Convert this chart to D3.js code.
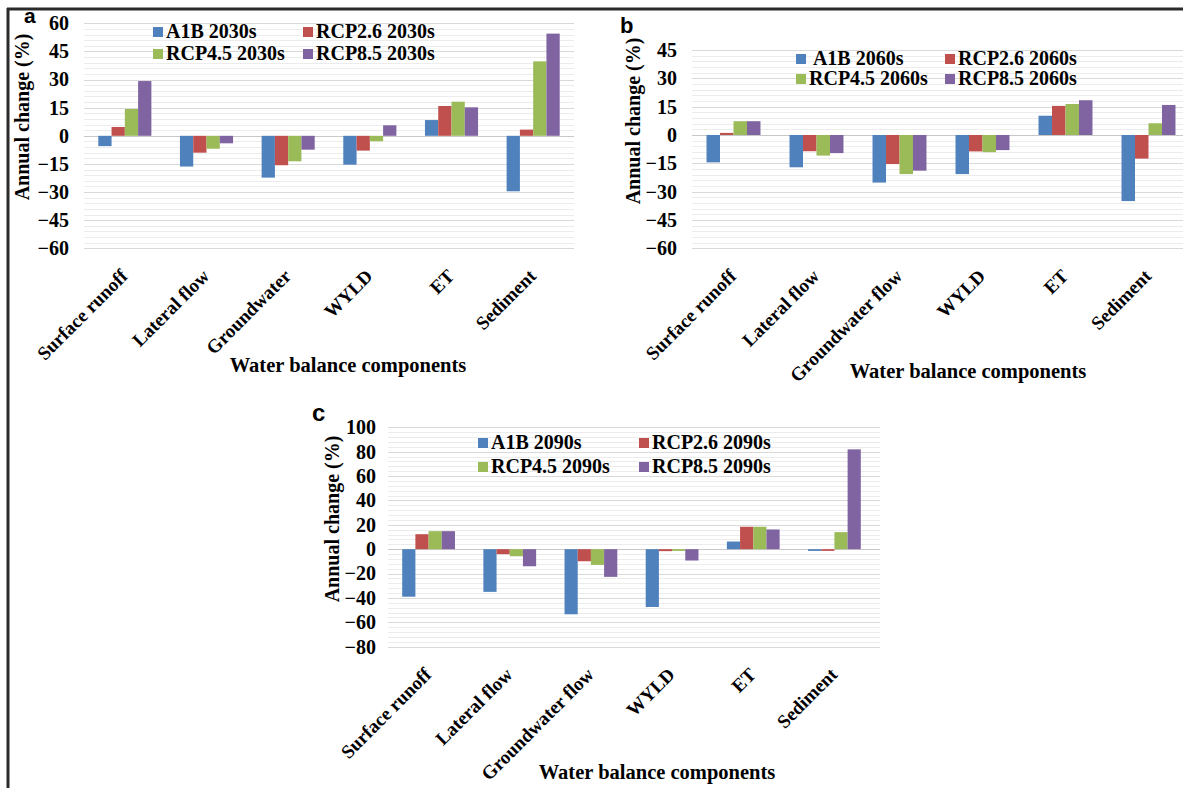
<!DOCTYPE html>
<html>
<head>
<meta charset="utf-8">
<script src="https://cdn.jsdelivr.net/npm/d3@7"></script>
<style>
  html, body { margin: 0; padding: 0; background: #fff; }
  svg { display: block; }
  .serif { font-family: 'Liberation Serif', 'Times New Roman', serif; font-weight: bold; fill: #000; }
</style>
</head>
<body>
<div id="figure"></div>
<script>
// categories / series
const CATEGORIES_A = ['Surface runoff', 'Lateral flow', 'Groundwater', 'WYLD', 'ET', 'Sediment']
const CATEGORIES_BC = ['Surface runoff', 'Lateral flow', 'Groundwater flow', 'WYLD', 'ET', 'Sediment']
const SERIES_2030 = ['A1B 2030s', 'RCP2.6 2030s', 'RCP4.5 2030s', 'RCP8.5 2030s']
const SERIES_2060 = [' A1B 2060s', 'RCP2.6 2060s', 'RCP4.5 2060s', 'RCP8.5 2060s']
const SERIES_2090 = ['A1B 2090s', 'RCP2.6 2090s', 'RCP4.5 2090s', 'RCP8.5 2090s']

// annual change (%), one array per scenario
const A1B_2030 = [-5.5, -16.4, -22.3, -15.4, 8.4, -29.6]
const RCP26_2030 = [4.7, -9.0, -15.7, -7.9, 15.9, 3.3]
const RCP45_2030 = [14.3, -6.9, -13.6, -2.9, 18.2, 39.7]
const RCP85_2030 = [29.2, -4.0, -7.4, 5.6, 15.2, 54.5]

const A1B_2060 = [-14.5, -17.1, -25.2, -20.7, 10.2, -35.0]
const RCP26_2060 = [1.1, -8.6, -15.4, -8.7, 15.4, -12.5]
const RCP45_2060 = [7.3, -10.9, -20.7, -9.1, 16.4, 6.2]
const RCP85_2060 = [7.3, -9.6, -18.9, -8.0, 18.4, 15.9]

const A1B_2090 = [-39.0, -35.0, -53.4, -47.4, 6.3, -1.4]
const RCP26_2090 = [12.3, -4.1, -9.9, -1.6, 18.4, -1.4]
const RCP45_2090 = [14.8, -5.8, -12.9, -1.4, 18.4, 14.0]
const RCP85_2090 = [14.8, -14.0, -22.7, -9.3, 16.2, 81.9]

const TICKS_A = [-60, -45, -30, -15, 0, 15, 30, 45, 60]
const TICKS_B = [-60, -45, -30, -15, 0, 15, 30, 45]
const TICKS_C = [-80, -60, -40, -20, 0, 20, 40, 60, 80, 100]

const COLORS = ['#4F81BD', '#C0504D', '#9BBB59', '#8064A2']
const WIDTH = 1183, HEIGHT = 788

const svg = d3.select('#figure')
  .append('svg')
  .attr('width', WIDTH)
  .attr('height', HEIGHT)

// outer frame (only top and left edges are visible in the picture)
svg.append('line').attr('x1', 7).attr('x2', WIDTH).attr('y1', 9).attr('y2', 9)
  .attr('stroke', '#2b2b2b').attr('stroke-width', 3)
svg.append('line').attr('x1', 8).attr('x2', 8).attr('y1', 8).attr('y2', HEIGHT)
  .attr('stroke', '#2b2b2b').attr('stroke-width', 3)

const drawPanel = ({ letter, categories, series, values, ticks, plot, legend, yTitle, xTitle }) => {
  const g = svg.append('g')
  const tickStep = ticks[1] - ticks[0]

  const x0 = d3.scaleBand()
    .domain(categories)
    .range([plot.left, plot.right])
  const groupWidth = x0.bandwidth() * 0.65
  const x1 = d3.scaleBand()
    .domain(series)
    .range([0, groupWidth])
  const y = d3.scaleLinear()
    .domain(d3.extent(ticks))
    .range([plot.bottom, plot.top])

  // minor + major gridlines
  const minor = d3.range(ticks[0], ticks[ticks.length - 1] + 0.001, tickStep / 5)
  g.append('g')
    .selectAll('line')
    .data(minor)
    .join('line')
    .attr('x1', plot.left)
    .attr('x2', plot.gridRight)
    .attr('y1', d => Math.round(y(d)) + 0.5)
    .attr('y2', d => Math.round(y(d)) + 0.5)
    .attr('stroke', '#ececec')
  g.append('g')
    .selectAll('line')
    .data(ticks)
    .join('line')
    .attr('x1', plot.left)
    .attr('x2', plot.gridRight)
    .attr('y1', d => Math.round(y(d)) + 0.5)
    .attr('y2', d => Math.round(y(d)) + 0.5)
    .attr('stroke', d => d === 0 ? '#c8c8c8' : '#d9d9d9')

  // bars
  const rows = []
  categories.forEach((c, i) => series.forEach((s, j) => rows.push({ c, s, j, v: values[j][i] })))
  g.append('g')
    .selectAll('rect')
    .data(rows)
    .join('rect')
    .attr('x', d => x0(d.c) + (x0.bandwidth() - groupWidth) / 2 + x1(d.s))
    .attr('width', x1.bandwidth())
    .attr('y', d => y(Math.max(0, d.v)))
    .attr('height', d => Math.abs(y(d.v) - y(0)))
    .attr('fill', d => COLORS[d.j])

  // y axis
  const yAxis = d3.axisLeft(y)
    .tickValues(ticks)
    .tickSize(0)
    .tickPadding(plot.labelPad)
  g.append('g')
    .attr('transform', `translate(${plot.left}, 0)`)
    .call(yAxis)
    .call(a => a.select('.domain').remove())
    .selectAll('text')
    .attr('class', 'serif')
    .style('font-size', '20px')

  // x axis category labels, slanted
  const xAxis = d3.axisBottom(x0).tickSize(0)
  g.append('g')
    .attr('transform', `translate(0, ${plot.bottom})`)
    .call(xAxis)
    .call(a => a.select('.domain').remove())
    .selectAll('text')
    .attr('class', 'serif')
    .style('font-size', '19px')
    .attr('text-anchor', 'end')
    .attr('dy', null)
    .attr('y', 0)
    .attr('transform', 'translate(4, 29) rotate(-45)')

  // axis titles
  g.append('text')
    .attr('class', 'serif')
    .style('font-size', '20px')
    .attr('text-anchor', 'middle')
    .attr('transform', `translate(${yTitle.x}, ${yTitle.y}) rotate(-90)`)
    .text('Annual change (%)')
  g.append('text')
    .attr('class', 'serif')
    .style('font-size', '20.5px')
    .attr('text-anchor', 'middle')
    .attr('x', xTitle.x)
    .attr('y', xTitle.y)
    .text('Water balance components')

  // panel letter
  g.append('text')
    .attr('x', letter.x)
    .attr('y', letter.y)
    .style('font-family', "'Liberation Sans', Arial, sans-serif")
    .style('font-weight', 'bold')
    .style('font-size', letter.size)
    .text(letter.text)

  // legend, 2 columns x 2 rows
  const items = g.append('g')
    .selectAll('g')
    .data(series)
    .join('g')
    .attr('transform', (d, i) => `translate(${legend.cols[i % 2]}, ${legend.rows[Math.floor(i / 2)]})`)
  items.append('rect')
    .attr('x', 0)
    .attr('y', -5)
    .attr('width', 10)
    .attr('height', 10)
    .attr('fill', (d, i) => COLORS[i])
  items.append('text')
    .attr('class', 'serif')
    .style('font-size', '20px')
    .style('white-space', 'pre')
    .attr('x', 13)
    .attr('y', 6)
    .text(d => d)
}

drawPanel({
  letter: { text: 'a', x: 24, y: 23, size: '21px' },
  categories: CATEGORIES_A,
  series: SERIES_2030,
  values: [A1B_2030, RCP26_2030, RCP45_2030, RCP85_2030],
  ticks: TICKS_A,
  plot: { left: 84, right: 574, gridRight: 574, top: 23.3, bottom: 248.3, labelPad: 15 },
  legend: { cols: [153, 303], rows: [32, 54] },
  yTitle: { x: 29, y: 117 },
  xTitle: { x: 348, y: 372 }
})

drawPanel({
  letter: { text: 'b', x: 620, y: 33, size: '22px' },
  categories: CATEGORIES_BC,
  series: SERIES_2060,
  values: [A1B_2060, RCP26_2060, RCP45_2060, RCP85_2060],
  ticks: TICKS_B,
  plot: { left: 692, right: 1190, gridRight: 1190, top: 50, bottom: 248.3, labelPad: 15 },
  legend: { cols: [796, 945], rows: [59, 79] },
  yTitle: { x: 640, y: 121 },
  xTitle: { x: 968, y: 378 }
})

drawPanel({
  letter: { text: 'c', x: 312, y: 421, size: '24px' },
  categories: CATEGORIES_BC,
  series: SERIES_2090,
  values: [A1B_2090, RCP26_2090, RCP45_2090, RCP85_2090],
  ticks: TICKS_C,
  plot: { left: 388, right: 875, gridRight: 880, top: 427.3, bottom: 646.7, labelPad: 12 },
  legend: { cols: [478, 639], rows: [443, 467] },
  yTitle: { x: 339, y: 519 },
  xTitle: { x: 657, y: 779 }
})
</script>
</body>
</html>
